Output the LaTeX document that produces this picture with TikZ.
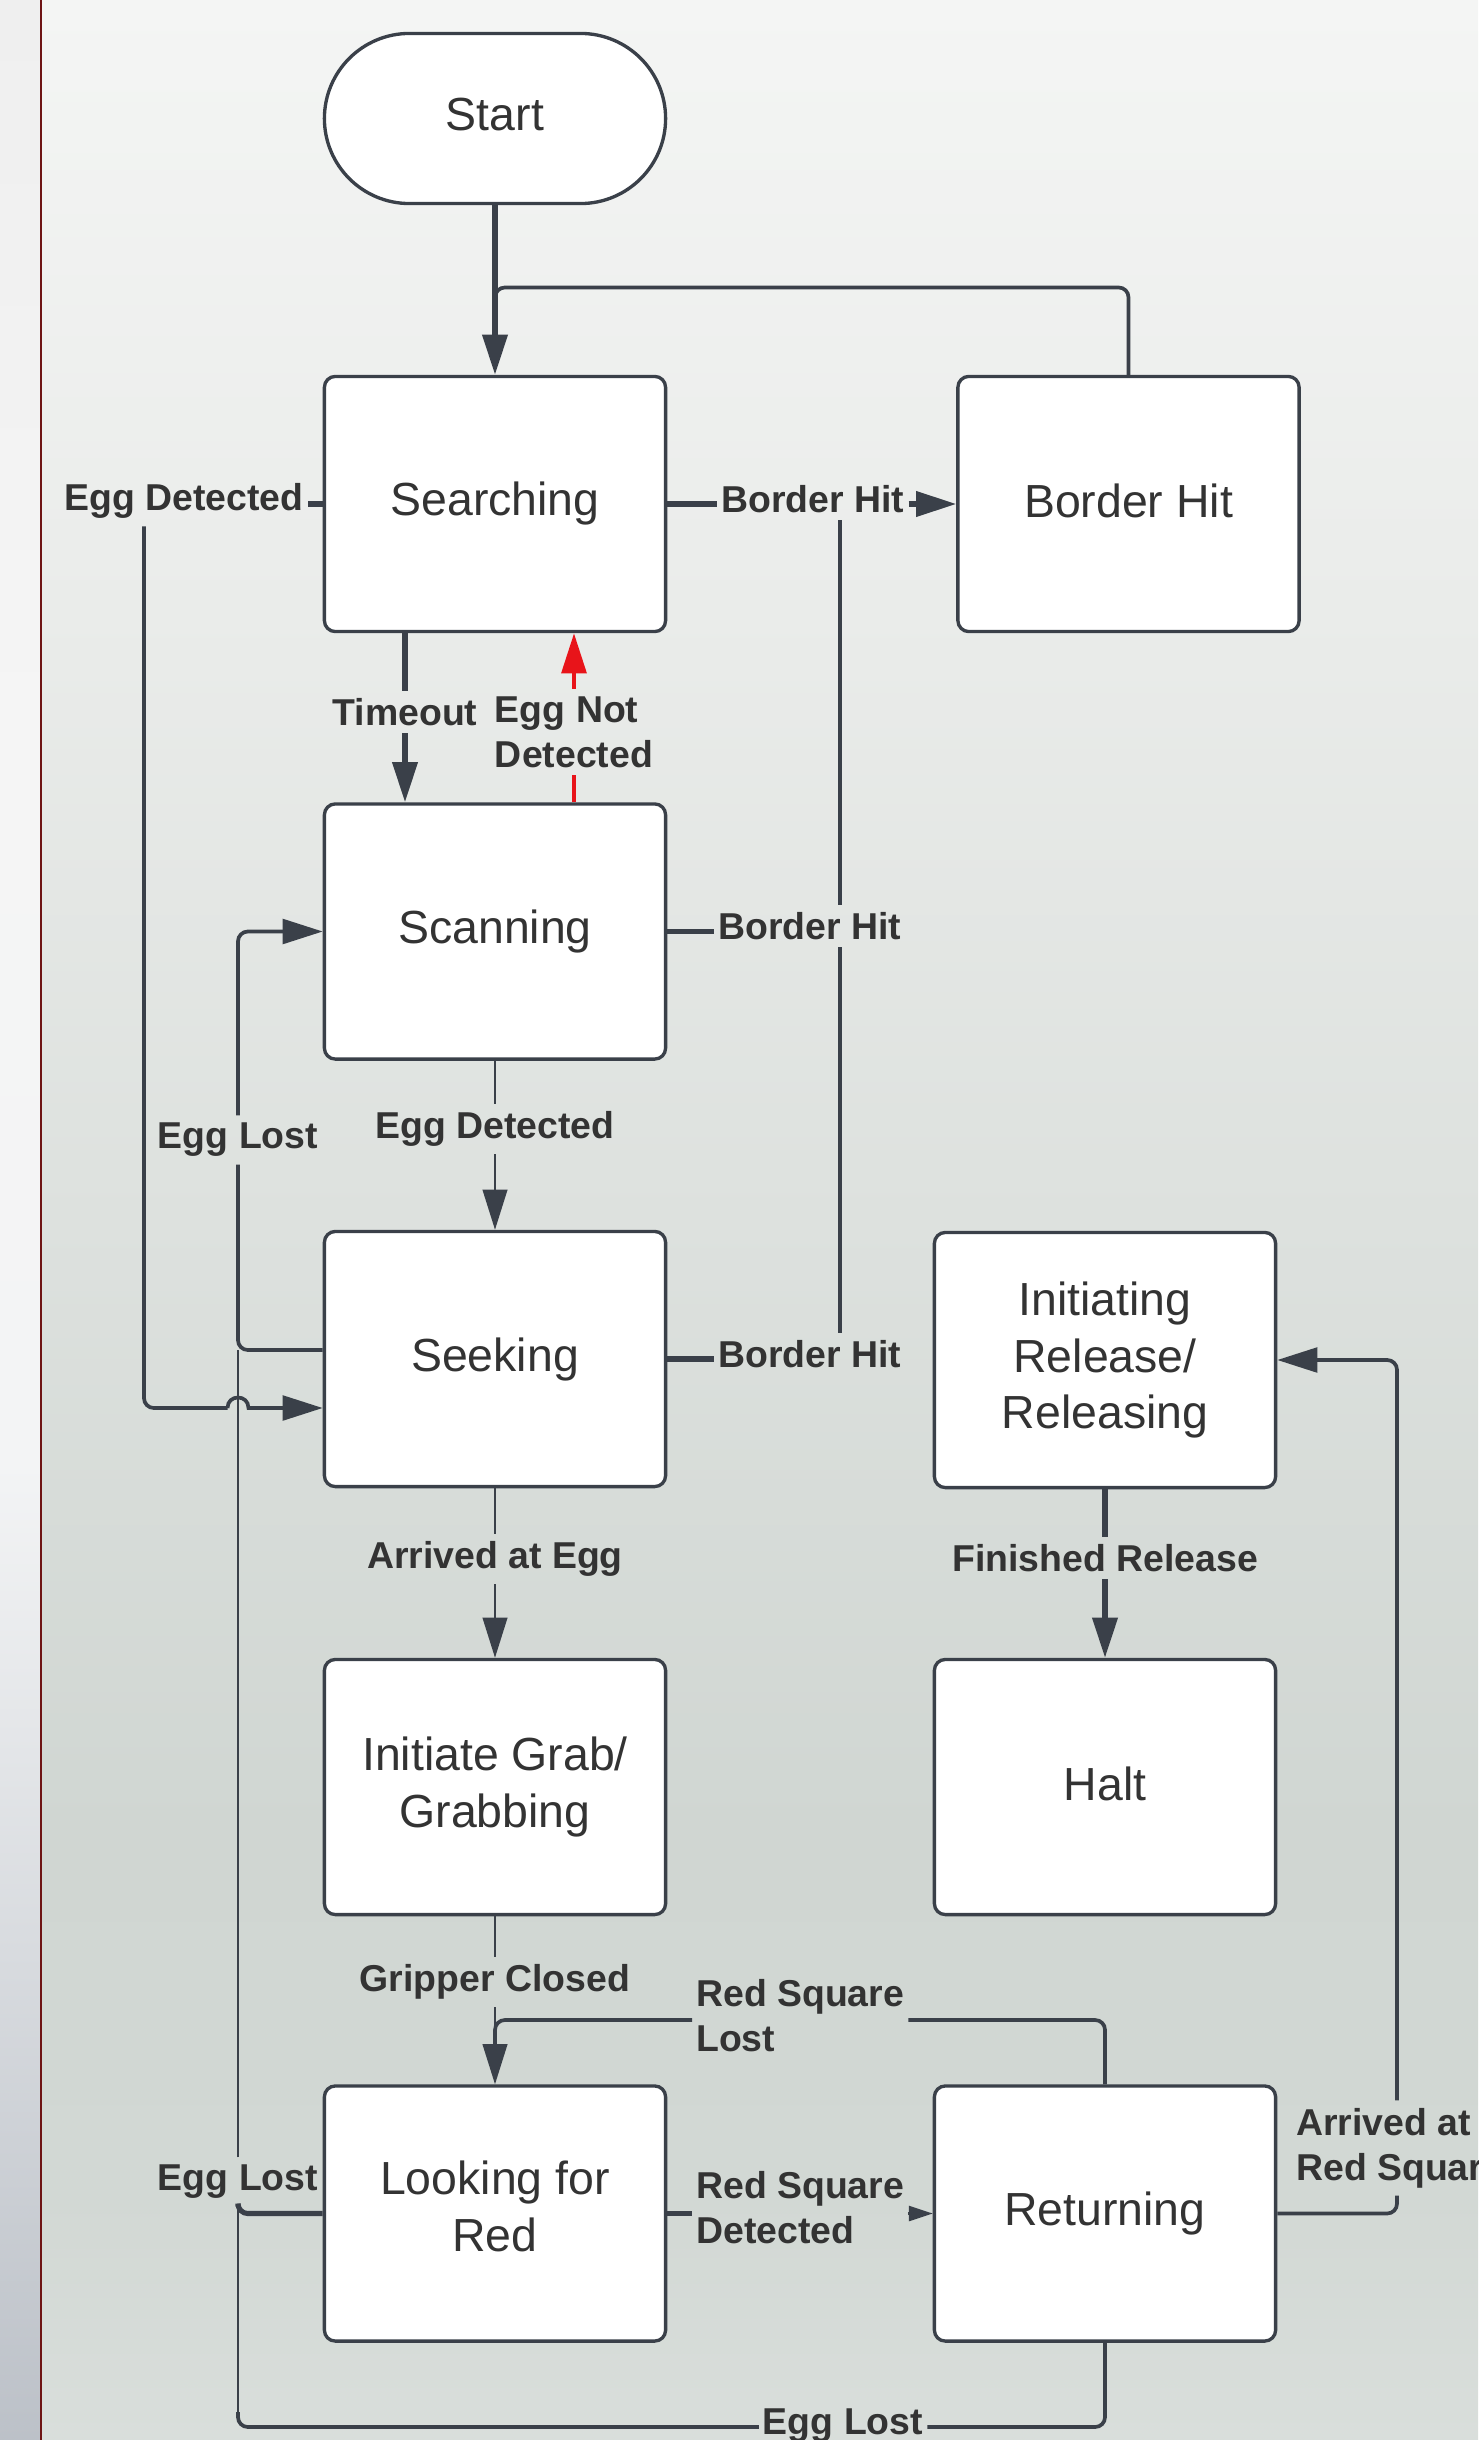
\documentclass[tikz,border=0pt]{standalone}
\usepackage{fontspec}
\setmainfont{Liberation Sans}
\usetikzlibrary{arrows.meta,calc}
\definecolor{lc}{HTML}{3A4049}
\definecolor{tc}{HTML}{333333}
\definecolor{rl}{HTML}{E8141A}
\definecolor{darkred}{HTML}{6E1414}
\definecolor{bgA}{HTML}{F4F5F4}
\definecolor{bgB}{HTML}{EAECEA}
\definecolor{bgC}{HTML}{DDE1DE}
\definecolor{bgD}{HTML}{D0D6D2}
\definecolor{bgE}{HTML}{D2D8D4}
\definecolor{bgF}{HTML}{D9DEDB}
\definecolor{sA}{HTML}{BCC1C8}
\definecolor{sB}{HTML}{D8DBDF}
\definecolor{sC}{HTML}{F3F4F5}
\definecolor{sD}{HTML}{F5F5F5}
\definecolor{sE}{HTML}{EFEFEF}
\pgfdeclareverticalshading{mainbg}{100bp}{color(0bp)=(bgF); color(25bp)=(bgF); color(30bp)=(bgE); color(37.5bp)=(bgD); color(50bp)=(bgC); color(62.5bp)=(bgB); color(75bp)=(bgA); color(100bp)=(bgA)}
\pgfdeclareverticalshading{stripbg}{100bp}{color(0bp)=(sA); color(25bp)=(sA); color(35bp)=(sB); color(45bp)=(sC); color(60bp)=(sD); color(75bp)=(sE); color(100bp)=(sE)}
\newcommand\mydp[1]{\rule[-#1]{0pt}{#1}}
\begin{document}
\begin{tikzpicture}[x=0.01cm,y=-0.01cm,
  box/.style={draw=lc, line width=0.95pt, fill=white, rounded corners=3.1pt,
    minimum width=3.41cm, minimum height=2.55cm, align=center, text=tc,
    font=\fontsize{13.2}{16.2}\selectfont, inner sep=2pt},
  startbox/.style={box, rounded corners=0.85cm, minimum height=1.70cm},
  elab/.style={text=tc, font=\bfseries\fontsize{10.64}{12.8}\selectfont,
    inner xsep=1pt, inner ysep=2pt, align=left},
  wthick/.style={draw=lc, line width=1.45pt},
  wmed/.style={draw=lc, line width=1.05pt},
  wthin/.style={draw=lc, line width=0.6pt},
  wred/.style={draw=rl, line width=1.2pt},
  arrowed/.style={-{Triangle[length=11.4pt,width=7pt]}},
  smalltip/.style={-{Triangle[length=6.8pt,width=4.3pt]}},
  rcorn/.style={rounded corners=2.8pt}]
\useasboundingbox (0,0) rectangle (1478,2440);
\clip (0,0) rectangle (1478,2440);
\shade[shading=stripbg] (0,0) rectangle (41,2440);
\shade[shading=mainbg] (41,0) rectangle (1478,2440);
\draw[darkred, line width=0.6pt] (41,0) -- (41,2440);

% states
\node[startbox] (start) at (495,118.5) {Start\mydp{0.2em}};
\node[box] (search) at (495,504) {Searching};
\node[box] (bhit) at (1128.5,504) {Border Hit\mydp{0.13em}};
\node[box] (scan) at (495,931.5) {Scanning};
\node[box] (seek) at (495,1359) {Seeking};
\node[box] (irel) at (1105,1360) {Initiating\\Release/\\Releasing};
\node[box] (grab) at (495,1787) {Initiate Grab/\\Grabbing};
\node[box] (halt) at (1105,1787) {Halt\mydp{0.13em}};
\node[box] (lfr) at (495,2213.5) {Looking for\\Red\mydp{0.33em}};
\node[box] (ret) at (1105,2213.5) {Returning};

% edge labels
\node[elab] (lbh1) at (813,499) {Border Hit};
\node[elab] (lbh2) at (810,926) {Border Hit};
\node[elab] (lbh3) at (810,1354) {Border Hit};
\node[elab] (led1) at (184,501) {Egg Detected};
\node[elab] (lto) at (405,712) {Timeout};
\node[elab] (lend) at (574,732) {Egg Not\\Detected};
\node[elab] (led2) at (495,1129) {Egg Detected};
\node[elab] (lel1) at (238,1140) {Egg Lost};
\node[elab] (lae) at (495,1559) {Arrived at Egg};
\node[elab] (lfin) at (1105,1558) {Finished Release};
\node[elab] (lgc) at (495,1982) {Gripper Closed};
\node[elab, anchor=west] (lrsl) at (692,2016) {Red Square\\Lost};
\node[elab, anchor=west] (lrsd) at (692,2208) {Red Square\\Detected};
\node[elab, anchor=west] (lars) at (1292,2148) {Arrived at\\Red Square};
\node[elab] (lel2) at (238,2182) {Egg Lost};
\node[elab] (lel3) at (843,2426) {Egg Lost};

% helper coordinates
\coordinate (jtop) at (495,287.5);
\coordinate (bx) at (840,0);
\coordinate (ex) at (144,0);
\coordinate (hy) at (0,1408);
\coordinate (hopA) at (227.5,1408);
\coordinate (hopB) at (248.5,1408);
\coordinate (tx) at (405,0);
\coordinate (rx) at (574,0);
\coordinate (ely) at (0,1350);
\coordinate (rsly) at (0,2020);
\coordinate (ax) at (1397,0);
\coordinate (boty) at (0,2427);

% Start -> Searching, Border Hit -> Searching
\draw[wthick, arrowed] (start.south) -- (search.north);
\draw[wmed, rcorn] (bhit.north) |- (jtop) -- ($(jtop)+(0,40)$);

% Border Hit transitions
\draw[wthick] (search.east) -- (lbh1.west |- search.east);
\draw[wthick, arrowed] (lbh1.east |- search.east) -- (bhit.west);
\draw[wthick] (scan.east) -- (lbh2.west |- scan.east);
\draw[wthick] (seek.east) -- (lbh3.west |- seek.east);
\draw[wmed] (lbh3.north -| bx) -- (lbh2.south -| bx);
\draw[wmed] (lbh2.north -| bx) -- (lbh1.south -| bx);

% Searching -> Seeking (Egg Detected)
\draw[wthick] (search.west) -- (led1.east |- search.west);
\draw[wmed, rcorn] (led1.south -| ex) |- (hopA);
\draw[wmed, arrowed] (hopA) .. controls ($(hopA)+(0,-14)$) and ($(hopB)+(0,-14)$) .. (hopB) -- (seek.west |- hy);

% Timeout
\draw[wthick] (search.south -| tx) -- (lto.north);
\draw[wthick, arrowed] (lto.south) -- (scan.north -| tx);

% Egg Not Detected
\draw[wred] (scan.north -| rx) -- (lend.south -| rx);
\draw[wred, arrowed] (lend.north -| rx) -- (search.south -| rx);

% Scanning -> Seeking
\draw[wthin] (scan.south) -- (led2.north);
\draw[wthin, arrowed] (led2.south) -- (seek.north);

% Seeking -> Scanning (Egg Lost)
\draw[wmed, rcorn] (seek.west |- ely) -| (lel1.south);
\draw[wmed, rcorn, arrowed] (lel1.north) |- (scan.west);

% Arrived at Egg
\draw[wthin] (seek.south) -- (lae.north);
\draw[wthin, arrowed] (lae.south) -- (grab.north);

% Finished Release
\draw[wthick] (irel.south) -- (lfin.north);
\draw[wthick, arrowed] (lfin.south) -- (halt.north);

% Gripper Closed
\draw[wthin] (grab.south) -- (lgc.north);
\draw[wthin, arrowed] (lgc.south) -- (lfr.north);

% Red Square Lost
\draw[wmed, rcorn] (ret.north) |- (lrsl.east |- rsly);
\draw[wmed, rcorn] (lrsl.west |- rsly) -| ($(lfr.north)+(0,-30)$);

% Red Square Detected
\draw[wthick] (lfr.east) -- (lrsd.west |- lfr.east);
\draw[wthin, smalltip] (lrsd.east |- lfr.east) -- (ret.west);

% Arrived at Red Square
\draw[wmed, rcorn] (ret.east) -| (lars.south -| ax);
\draw[wmed, rcorn, arrowed] (lars.north -| ax) |- (irel.east);

% Looking for Red -> (Egg Lost)
\draw[wthick, rcorn] (lfr.west) -| (lel2.south);
\draw[wthin] (lel2.north) -- (lel2.north |- ely);

% Returning -> (Egg Lost)
\draw[wmed, rcorn] (ret.south) |- (lel3.east |- boty);
\draw[wmed, rcorn] (lel3.west |- boty) -| ($(lel2.south |- boty)+(0,-15)$);
\draw[wthin] ($(lel2.south |- boty)+(0,-15)$) -- (lel2.south);
\end{tikzpicture}
\end{document}
